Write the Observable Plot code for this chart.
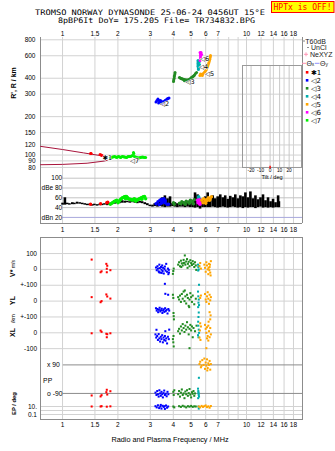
<!DOCTYPE html>
<html><head><meta charset="utf-8">
<script src="https://cdn.jsdelivr.net/npm/d3@7"></script>
<script src="https://cdn.jsdelivr.net/npm/@observablehq/plot@0.6"></script>
<style>
html,body{margin:0;padding:0;background:#fff;}
#wrap{position:relative;width:335px;height:451px;overflow:hidden;background:#fff;}
.pane{position:absolute;left:0;}
</style></head><body>
<div id="wrap"></div>
<script>
// ---------------- DATA ----------------
const gridFreqs = [1, 1.5, 2, 3, 4, 5, 6, 7, 8, 9, 10, 12, 14, 16, 18];
const topFreqLabels = [1, 1.5, 2, 3, 4, 5, 6, 7, 8, 10, 12, 14, 16, 18];
const midFreqLabels = [1, 1.5, 2, 3, 4, 5, 6, 7, 8, 9, 10, 12, 14, 16, 18];
const botFreqLabels = [1, 1.5, 2, 3, 4, 5, 6, 7, 8, 10, 12, 14, 16, 18];
const heightTicks = [80, 90, 100, 120, 150, 200, 300, 400, 600, 800];
const dbTicks = [100, 80, 60, 40, 20];
const dbTickText = ["100", "dBe 80", "60", "40", "dBn 20"];
const tiltTicks = [-20, -10, 0, 10, 20];
const rowTicks = [100, 0, -100];
const epTicks = [10, 1, 0.1];

// model traces (maroon) in the height panel
const upperF = [0.76, 1.0, 1.3, 1.61, 1.75];
const upperH = [117, 110.5, 104, 99, 96];
const lowerF = [0.76, 1.0, 1.36, 1.68, 1.75];
const lowerH = [84, 84.5, 86.3, 89.7, 91];

// echo traces: [frequency MHz, virtual height km]
const topRed = [[1.42,103],[1.43,103],[1.60,101],[1.62,100],[1.64,99]];
const topLime = [[1.82,95.8],[1.85,96.2],[1.87,96.7],[1.90,97],[1.92,97.6],[1.95,96.5],[1.97,95.8],[2.0,96.8],[2.02,97.6],[2.05,96.5],[2.07,95.8],[2.10,96.8],[2.12,97.6],[2.15,97],[2.17,96.7],[2.20,96],[2.23,95.8],[2.26,96.8],[2.28,97.6],[2.31,97.6],[2.34,97.6],[2.37,98.5],[2.40,99.3],[2.43,104.9],[2.44,102.7],[2.46,97.6],[2.50,96.5],[2.53,95.8],[2.56,95.2],[2.59,94.9],[2.62,95.3],[2.65,95.8],[2.68,96.3],[2.72,96.7],[2.75,96.2],[2.79,95.8],[2.83,95.8]];
const topBlue = [[3.22,261],[3.26,268],[3.30,275],[3.35,268],[3.39,261],[3.43,256],[3.47,254],[3.52,258],[3.56,263],[3.61,268],[3.65,270],[3.70,275],[3.74,278],[3.79,280],[3.41,268],[3.33,256],[3.50,262]];
const topGreen = [[4.01,377],[4.02,388],[4.04,398],[4.05,410],[4.06,420],[4.08,432],[4.09,444],[4.32,406],[4.36,402],[4.41,398],[4.45,396],[4.49,395],[4.53,393],[4.57,391],[4.62,389],[4.66,388],[4.70,388],[4.75,388],[4.80,388],[4.84,388],[4.88,391],[4.93,395],[4.98,400],[5.02,406],[5.07,409],[5.12,413],[5.17,418],[5.22,424],[5.28,436],[5.35,444],[4.60,382],[4.80,380]];
const topCyan = [[5.45,551],[5.45,536],[5.45,522],[5.45,508],[5.45,494],[5.47,481],[5.48,468],[5.55,541],[5.55,513],[5.55,486]];
const topMagenta = [[5.59,636],[5.66,636],[5.62,620],[5.62,603],[5.62,587],[5.62,571],[5.59,551],[5.70,614]];
const topOrange = [[5.58,420],[5.69,428],[5.76,432],[5.84,436],[5.90,444],[5.95,452],[6.01,462],[6.06,472],[6.10,483],[6.14,494],[6.18,508],[6.22,522],[6.26,536],[6.29,551],[6.31,563],[6.33,576],[6.35,590],[6.37,603],[5.62,432],[5.75,420]];
const echoLabels = [[1.75,95,"✱1"],[2.46,90.5,"◁7"],[3.58,252,"◁2"],[4.93,374,"◁3"],[5.84,487,"◁4"],[6.30,436,"◁5"],[5.91,571,"◁6"]];
const tiltMarks = [[0, 78, 82]];

// amplitude panel: noise (black) and echo amplitudes [f, dB]
const noiseF = [1.00,1.03,1.06,1.09,1.13,1.16,1.20,1.24,1.28,1.32,1.36,1.40,1.45,1.49,1.54,1.59,1.64,1.69,1.75,1.80,1.86,1.92,1.98,2.04,2.11,2.18,2.25,2.32,2.39,2.47,2.55,2.63,2.71,2.80,2.89,2.98,3.08,3.17,3.28,3.38,3.49,3.60,3.72,3.84,3.96,4.08,4.21,4.35,4.49,4.63,4.78,4.93,5.09,5.25,5.42,5.59,5.77,5.96,6.15,6.34,6.55,6.76,6.97,7.20,7.43,7.66,7.91,8.16,8.42,8.69,8.97,9.26,9.55,9.86,10.17,10.50,10.83,11.18,11.54,11.91,12.29,12.68,13.09,13.51,13.94,14.38,14.85,15.0];
const noiseTop = [49,60,49,48,50,49,51,50,49,48,47,47,46,47,46,47,47,48,47,49,50,51,52,52,54,53,53,52,54,53,52,53,52,50,48,45,45,48,50,52,60,64,58,62,48,50,48,50,52,50,53,51,55,70,66,58,56,62,70,60,64,58,62,66,60,64,57,63,60,66,58,64,62,70,60,72,58,64,56,60,66,54,60,52,57,50,64,52];
const noiseBot = [45,45,46,45,46,46,47,47,46,45,44,44,43,44,43,44,44,45,44,46,47,47,48,48,49,49,50,49,50,49,48,49,48,46,44,42,41,42,41,42,41,40,41,41,42,41,40,41,41,40,41,40,40,39,40,37,40,40,40,40,41,40,39,40,41,40,39,40,41,40,39,40,38,40,39,40,40,38,40,41,39,40,39,40,39,40,40,40];
const dbRed = [[1.42,47],[1.61,48],[1.74,50],[1.76,51]];
const dbLime = [[1.82,47],[1.85,49],[1.87,50],[1.90,52],[1.92,53],[1.95,54],[1.97,55],[2.0,53],[2.02,52],[2.05,55],[2.07,57],[2.10,59],[2.12,60],[2.15,61],[2.17,62],[2.20,63],[2.23,63],[2.26,60],[2.28,58],[2.31,57],[2.34,57],[2.37,56],[2.40,55],[2.43,57],[2.46,58],[2.50,56],[2.53,55],[2.56,56],[2.59,57],[2.62,58],[2.65,59],[2.68,60],[2.72,61],[2.75,62],[2.79,63],[2.83,58],[2.0,50],[2.2,58],[2.5,53],[2.7,57]];
const dbBlue = [[3.22,48],[3.30,52],[3.38,55],[3.45,57],[3.52,53],[3.60,50],[3.70,47],[3.45,49],[3.35,46],[3.56,58],[3.77,47],[3.48,53],[3.62,54]];
const dbGreen = [[4.01,50],[4.05,47],[4.32,49],[4.45,52],[4.57,50],[4.70,53],[4.84,51],[4.95,55],[5.08,52],[5.20,56],[5.15,48],[4.65,47],[4.40,48],[4.90,49],[5.0,53]];
const dbCyan = [[5.49,62],[5.52,58],[5.50,60]];
const dbMagenta = [[5.42,55],[5.50,52],[5.60,50],[5.55,56],[5.45,50],[5.58,47]];
const dbOrange = [[5.72,55],[5.85,58],[5.95,53],[6.05,56],[6.20,60],[6.35,58],[6.45,62],[5.80,50],[6.0,49],[6.1,54],[6.3,55]];

// kinematics panel: V* (m/s), YL (km), XL (km), PP (deg), EP (deg)
const vRed = [[1.44,62],[1.61,-18],[1.63,-12],[1.73,35],[1.75,23],[1.74,4],[1.74,-18],[1.82,-5]];
const ylRed = [[1.44,25],[1.61,-7],[1.63,0],[1.73,42],[1.75,29],[1.82,16]];
const xlRed = [[1.44,-3],[1.61,14],[1.63,6],[1.73,-6],[1.75,-9],[1.74,-28],[1.82,-3]];
const ppRed = [[1.44,-103],[1.61,-109],[1.63,-101],[1.73,-82],[1.74,-67],[1.75,-97],[1.82,-76]];
const epRed = [[1.44,10],[1.61,10],[1.63,12],[1.74,9],[1.82,11]];

const vBlue = [[3.22,12],[3.25,-5],[3.28,20],[3.30,5],[3.33,-12],[3.36,30],[3.38,8],[3.40,-20],[3.43,15],[3.45,-2],[3.48,25],[3.50,-10],[3.52,10],[3.55,-26],[3.58,3],[3.60,18],[3.63,-8],[3.66,35],[3.70,-15],[3.74,5],[3.78,-3],[3.60,-91],[3.35,-18],[3.46,-22],[3.76,-30],[3.79,-20]];
const ylBlue = [[3.62,46],[3.75,40],[3.22,-45],[3.25,-60],[3.28,-50],[3.31,-70],[3.34,-55],[3.37,-42],[3.40,-65],[3.43,-58],[3.46,-48],[3.49,-75],[3.52,-60],[3.55,-52],[3.58,-68],[3.61,-45],[3.64,-62],[3.68,-55],[3.72,-78],[3.76,-50],[3.80,-60]];
const xlBlue = [[3.24,19],[3.20,-10],[3.23,-30],[3.27,-20],[3.30,-45],[3.33,-8],[3.36,-35],[3.39,-55],[3.42,-25],[3.45,-40],[3.48,-15],[3.51,-60],[3.54,-30],[3.57,-45],[3.60,-20],[3.63,-50],[3.66,-35],[3.70,-67],[3.74,-25],[3.78,-40],[3.62,10],[3.80,20]];
const ppBlue = [[3.20,-85],[3.24,-100],[3.27,-75],[3.30,-95],[3.33,-110],[3.36,-70],[3.39,-90],[3.42,-105],[3.45,-80],[3.48,-95],[3.51,-115],[3.54,-88],[3.57,-72],[3.60,-100],[3.64,-92],[3.68,-108],[3.72,-80],[3.76,-95]];
const epBlue = [[3.20,12],[3.25,6],[3.30,20],[3.35,4],[3.40,10],[3.45,3],[3.50,15],[3.55,8],[3.60,2.5],[3.65,18],[3.70,5],[3.75,10],[3.42,25],[3.58,12]];

const vGreen = [[3.98,-28],[4.00,-10],[4.02,5],[4.25,30],[4.30,45],[4.35,20],[4.40,55],[4.45,38],[4.50,25],[4.55,60],[4.60,42],[4.62,88],[4.65,30],[4.70,50],[4.75,65],[4.80,35],[4.85,48],[4.90,20],[4.95,58],[5.00,40],[5.05,28],[5.10,52],[5.15,35],[5.20,15],[5.25,45],[5.30,25],[4.42,15],[4.78,10],[4.55,40],[5.33,-3]];
const ylGreen = [[3.98,40],[4.00,20],[4.01,-75],[4.02,-95],[4.03,-115],[4.25,25],[4.30,10],[4.35,35],[4.40,-5],[4.45,45],[4.50,15],[4.55,60],[4.60,0],[4.65,30],[4.70,-15],[4.75,40],[4.80,20],[4.85,-30],[4.90,10],[4.95,50],[5.00,25],[5.05,-5],[5.10,35],[5.20,-20],[5.30,15],[4.62,67],[4.88,-38]];
const xlGreen = [[3.98,-40],[4.00,-60],[4.02,-86],[4.01,-20],[4.25,10],[4.30,25],[4.35,-5],[4.40,40],[4.45,15],[4.50,55],[4.55,30],[4.60,5],[4.65,45],[4.70,20],[4.75,67],[4.80,35],[4.85,-10],[4.90,25],[4.95,50],[5.00,15],[5.05,40],[5.10,-28],[5.15,30],[5.25,10],[5.35,45],[4.90,-97]];
const ppGreen = [[4.00,-80],[4.02,-100],[4.05,-70],[4.25,-95],[4.30,-75],[4.35,-110],[4.40,-85],[4.45,-65],[4.50,-100],[4.55,-90],[4.60,-120],[4.65,-78],[4.70,-95],[4.75,-70],[4.80,-105],[4.85,-88],[4.90,-62],[4.95,-98],[5.00,-115],[5.05,-82],[5.10,-92],[5.15,-75],[5.20,-105],[5.25,-90]];
const epGreen = [[4.0,10],[4.05,6],[4.3,12],[4.4,8],[4.5,15],[4.6,10],[4.7,6],[4.8,12],[4.9,9],[5.0,14],[5.1,8],[5.2,11],[5.3,10]];

const vCyan = [[5.45,30],[5.47,15],[5.50,0],[5.46,-7],[5.52,22],[5.52,-97]];
const ylCyan = [[5.45,60],[5.47,30],[5.50,10],[5.48,-10],[5.52,-25],[5.46,-38]];
const xlCyan = [[5.50,128],[5.48,100],[5.46,70],[5.47,45],[5.50,20],[5.52,0],[5.45,-15],[5.48,-28]];
const ppCyan = [[5.51,8.6],[5.45,-60],[5.47,-75],[5.49,-90],[5.50,-100],[5.52,-110],[5.46,-120],[5.48,-85]];
const epCyan = [[5.48,10],[5.50,3]];

const vOrange = [[5.55,20],[5.60,40],[5.65,5],[5.90,30],[5.95,10],[6.00,-15],[6.05,45],[6.10,25],[6.15,0],[6.20,-30],[6.25,35],[6.30,15],[6.35,-20],[6.40,52],[6.38,-38],[6.22,10],[6.28,-5],[6.33,30]];
const ylOrange = [[5.60,20],[5.65,35],[5.95,45],[6.00,10],[6.05,-5],[6.10,30],[6.15,56],[6.20,15],[6.25,-17],[6.30,40],[6.35,5],[6.40,25]];
const xlOrange = [[6.30,130],[6.38,110],[5.60,60],[5.65,40],[5.58,15],[5.95,50],[6.00,25],[6.05,0],[6.10,35],[6.15,-20],[6.20,45],[6.25,10],[6.30,-28],[6.35,30],[6.40,-10],[6.20,-49],[6.10,-35],[6.05,-97],[6.22,70],[6.35,85],[5.55,-30],[5.62,-45]];
const ppOrange = [[5.55,95],[5.60,110],[5.65,75],[5.75,120],[5.85,90],[5.95,65],[6.00,105],[6.05,85],[6.10,125],[6.15,70],[6.20,100],[6.25,90],[6.30,115],[6.35,60],[6.40,95],[5.70,85],[6.12,55],[5.90,130]];
const epOrange = [[5.50,10],[5.60,6],[5.70,14],[5.80,8],[5.90,12],[6.00,18],[6.10,7],[6.20,11],[6.30,5],[6.40,13]];

const echoNames = ["✱1", "◁2", "◁3", "◁4", "◁5", "◁6", "◁7"];

// ---------------- STYLE / LAYOUT ----------------
const FONT = "'Liberation Sans', Arial, sans-serif";
const X_DOMAIN = [0.759, 20.15];
const GRID = "#d2d2d2";
const EDGE = "#8c8c8c";
const MAROON = "#a8143c";
const COL = {red:"#ff0000", blue:"#0000ff", green:"#228b22", cyan:"#00acac", orange:"#ffa500", magenta:"#ff00ff", lime:"#00f000"};
const echoColors = [COL.red, COL.blue, COL.green, COL.cyan, COL.orange, COL.magenta, COL.lime];
const baseStyle = {fontFamily: FONT, fontSize: "6.5px", background: "transparent", color: "#000", overflow: "visible"};
const fx = d => d[0], fy = d => d[1];
const fmt = d => String(d);

const wrap = document.getElementById("wrap");
function place(node, top, left = 0) {
  const div = document.createElement("div");
  div.className = "pane";
  div.style.top = top + "px";
  div.style.left = left + "px";
  div.appendChild(node);
  wrap.appendChild(div);
}

// ---- top panel: virtual height ----
const topDots = [[topRed, COL.red], [topLime, COL.lime], [topBlue, COL.blue], [topGreen, COL.green], [topOrange, COL.orange], [topCyan, COL.cyan], [topMagenta, COL.magenta]];
const topPlot = Plot.plot({
  width: 335, height: 146, marginLeft: 40, marginRight: 33, marginTop: 11, marginBottom: 0,
  x: {type: "log", domain: X_DOMAIN},
  y: {type: "log", domain: [73, 834]},
  style: baseStyle,
  marks: [
    Plot.ruleY(heightTicks, {stroke: GRID}),
    Plot.ruleX(gridFreqs, {stroke: GRID}),
    Plot.ruleX(X_DOMAIN, {stroke: EDGE}),
    Plot.axisX({anchor: "top", ticks: topFreqLabels, tickSize: 0, tickPadding: 1.5, tickFormat: fmt, label: null}),
    Plot.axisY({anchor: "left", ticks: heightTicks, tickSize: 0, tickPadding: 5, tickFormat: fmt, label: null}),
    Plot.line(upperF.map((f, i) => [f, upperH[i]]), {x: fx, y: fy, stroke: MAROON, strokeWidth: 1}),
    Plot.line(lowerF.map((f, i) => [f, lowerH[i]]), {x: fx, y: fy, stroke: MAROON, strokeWidth: 1}),
    ...topDots.map(([data, c]) => Plot.dot(data, {x: fx, y: fy, r: 1.5, fill: c, stroke: "none"})),
    Plot.text(echoLabels, {x: fx, y: fy, text: d => d[2], fontFamily: "'DejaVu Sans'", fontSize: 6.5, fill: "#000", stroke: "#fff", strokeWidth: 1})
  ]
});
place(topPlot, 26);

// ---- middle panel: amplitude ----
const dbDots = [[dbRed, COL.red], [dbLime, COL.lime], [dbBlue, COL.blue], [dbGreen, COL.green], [dbCyan, COL.cyan], [dbMagenta, COL.magenta], [dbOrange, COL.orange]];
const midPlot = Plot.plot({
  width: 335, height: 62, marginLeft: 40, marginRight: 33, marginTop: 0, marginBottom: 11,
  x: {type: "log", domain: X_DOMAIN},
  y: {domain: [7.6, 111.6], axis: null},
  style: baseStyle,
  marks: [
    Plot.ruleX(gridFreqs, {stroke: GRID}),
    Plot.ruleY(dbTicks.slice(0, 4), {x1: 1, x2: X_DOMAIN[1], stroke: "#c4c4c4"}),
    Plot.ruleY(dbTicks.slice(4), {x1: 1, x2: X_DOMAIN[1], stroke: "#a9a9dc"}),
    Plot.ruleX(X_DOMAIN, {stroke: EDGE}),
    Plot.ruleY([7.6], {stroke: EDGE}),
    Plot.text(dbTicks, {y: d => d, text: (d, i) => dbTickText[i], frameAnchor: "left", dx: 21.7, textAnchor: "end", fontSize: 6.5}),
    Plot.ruleX(noiseF.map((f, i) => [f, noiseBot[i], noiseTop[i]]), {x: fx, y1: d => d[1], y2: d => d[2], stroke: "#000", strokeWidth: 2.6}),
    ...dbDots.map(([data, c]) => Plot.dot(data, {x: fx, y: fy, r: 1.7, fill: c, stroke: "none"})),
    Plot.axisX({anchor: "bottom", ticks: midFreqLabels, tickSize: 0, tickPadding: 3.5, tickFormat: fmt, label: null})
  ]
});
place(midPlot, 172);

// ---- bottom panel: V*, YL, XL, PP, EP rows (composite row offsets) ----
const uV = v => v + 400, uYL = v => v + 200, uXL = v => v, uPP = v => v - 292.5, uEP = v => -490.2 + 25.24 * Math.log10(v);
const rowGrid = [...rowTicks.map(uV), ...rowTicks.slice(1).map(uYL), ...rowTicks.slice(1).map(uXL)];
const rowAxis = [
  ...rowTicks.map((t, i) => [uV(t), i === 2 ? "+-100" : String(t)]),
  ...rowTicks.slice(1).map((t, i) => [uYL(t), i === 1 ? "+-100" : String(t)]),
  ...rowTicks.slice(1).map(t => [uXL(t), String(t)]),
  [uEP(10), "10."], [uEP(0.1), "0.1"]
];
const ppModeAxis = [[uPP(90), "x 90"], [uPP(-90), "o -90"]];
const ppTitle = [[uPP(-8.5), "PP"]];
const series = [
  [vRed, ylRed, xlRed, ppRed, epRed, COL.red],
  [vBlue, ylBlue, xlBlue, ppBlue, epBlue, COL.blue],
  [vGreen, ylGreen, xlGreen, ppGreen, epGreen, COL.green],
  [vCyan, ylCyan, xlCyan, ppCyan, epCyan, COL.cyan],
  [vOrange, ylOrange, xlOrange, ppOrange, epOrange, COL.orange]
];
const sq = (data, fn, c) => Plot.dot(data, {x: fx, y: d => fn(d[1]), symbol: "square", r: 1.15, fill: c, stroke: "none"});
const botPlot = Plot.plot({
  width: 335, height: 215, marginLeft: 40, marginRight: 33, marginTop: 1, marginBottom: 32,
  x: {type: "log", domain: X_DOMAIN},
  y: {domain: [-547, 601.3]},
  style: baseStyle,
  marks: [
    Plot.ruleX(gridFreqs, {stroke: GRID}),
    Plot.ruleY(rowGrid, {stroke: GRID}),
    Plot.ruleY(epTicks.map(uEP), {stroke: GRID}),
    Plot.ruleY([uPP(90), uPP(-90)], {x1: 1.01, x2: X_DOMAIN[1], stroke: EDGE}),
    Plot.frame({stroke: EDGE}),
    Plot.axisY({anchor: "left", ticks: rowAxis.map(d => d[0]), tickSize: 0, tickPadding: 3.5, tickFormat: d => (rowAxis.find(r => r[0] === d) || [0, ""])[1], label: null}),
    Plot.text(ppModeAxis, {y: d => d[0], text: d => d[1], dx: 6.5, frameAnchor: "left", textAnchor: "start", fontSize: 6.8}),
    Plot.text(ppTitle, {y: d => d[0], text: d => d[1], dx: 2.6, frameAnchor: "left", textAnchor: "start", fontSize: 6.8}),
    ...series.flatMap(([v, yl, xl, pp, ep, c]) => [sq(v, uV, c), sq(yl, uYL, c), sq(xl, uXL, c), sq(pp, uPP, c), sq(ep, uEP, c)]),
    Plot.axisX({anchor: "bottom", ticks: botFreqLabels, tickSize: 0, tickPadding: 3.3, tickFormat: fmt, label: null})
  ]
});
place(botPlot, 236);

// ---- tilt inset ----
const tiltPlot = Plot.plot({
  width: 80, height: 117, marginLeft: 10, marginRight: 11, marginTop: 1, marginBottom: 14,
  x: {domain: [-29, 33]},
  y: {type: "log", domain: [80, 503], axis: null},
  style: {...baseStyle, fontSize: "4.8px"},
  marks: [
    Plot.ruleX(tiltTicks, {stroke: "#c8c8c8"}),
    Plot.frame({stroke: "#9a9a9a"}),
    Plot.ruleX(tiltMarks, {x: d => d[0], y1: d => d[1], y2: d => d[2], stroke: "#ff0000", strokeWidth: 1.4}),
    Plot.axisX({anchor: "bottom", ticks: tiltTicks, tickSize: 0, tickPadding: 1.2, tickFormat: fmt, label: null})
  ]
});
place(tiltPlot, 64, 232);

// ---- text overlay: titles, legend, row labels ----
const legendRows = echoNames.map((n, i) => `<rect x="305.8" y="${71 + i * 8}" width="2.6" height="2.6" fill="${echoColors[i]}"/><text x="311" y="${74.6 + i * 8}" font-family="'DejaVu Sans'" font-size="7">${n}</text>`).join("");
const overlay = `<svg xmlns="http://www.w3.org/2000/svg" width="335" height="451" style="position:absolute;left:0;top:0;pointer-events:none">
<g font-family="'DejaVu Sans Mono', monospace" font-size="7.6" fill="#000" style="white-space:pre">
<text x="35" y="15" textLength="230" lengthAdjust="spacingAndGlyphs">TROMSO NORWAY   DYNASONDE 25-06-24 0456UT 15°E</text>
<text x="58" y="22.8" textLength="197" lengthAdjust="spacingAndGlyphs">8pBP6It DoY= 175.205 File= TR734832.BPG</text>
</g>
<rect x="271.5" y="1.5" width="62.5" height="11" fill="#ffff00" stroke="#ff0000" stroke-width="1"/>
<text x="273.5" y="10.2" font-family="'DejaVu Sans Mono', monospace" font-size="8" fill="#ff0000" textLength="58" lengthAdjust="spacingAndGlyphs" style="white-space:pre">HPTx is OFF!</text>
<g font-family="${FONT}" fill="#000">
<text transform="translate(15.5,83) rotate(-90)" text-anchor="middle" font-weight="bold" font-size="7">R', R / km</text>
<text transform="translate(14.5,268.5) rotate(-90)" text-anchor="middle"><tspan font-weight="bold" font-size="7">V*</tspan><tspan font-size="5" dx="1.5">m/s</tspan></text>
<text transform="translate(14.5,300.5) rotate(-90)" text-anchor="middle" font-weight="bold" font-size="7">YL</text>
<text transform="translate(14.5,318.5) rotate(-90)" text-anchor="middle" font-size="5.5">/km</text>
<text transform="translate(14.5,332.5) rotate(-90)" text-anchor="middle" font-weight="bold" font-size="7">XL</text>
<text transform="translate(15.5,403.5) rotate(-90)" text-anchor="middle" font-weight="bold" font-size="5.8">EP / deg</text>
<text x="170" y="441.6" text-anchor="middle" font-size="7.3">Radio and Plasma Frequency / MHz</text>
<text x="272" y="178.6" text-anchor="middle" font-size="5.6">Tilt / deg</text>
</g>
<g font-family="${FONT}" font-size="7" fill="#222">
<line x1="302" y1="41" x2="305" y2="41" stroke="#999" stroke-width="1.2"/>
<text x="305.3" y="43.5">T60dB</text>
<circle cx="308" cy="47.5" r="0.6" fill="#000"/>
<text x="311" y="50">UnCl</text>
<path d="M304,54.3h4M306,52.3v4" stroke="#ff8fb0" stroke-width="0.9"/>
<text x="310" y="56.6">NeXYZ</text>
<line x1="302" y1="63.3" x2="306" y2="63.3" stroke="#ff8fb0" stroke-width="1"/>
<text x="306.4" y="65.8">Θ<tspan font-size="5">x</tspan></text>
<line x1="315" y1="63.3" x2="319.5" y2="63.3" stroke="#8f8fff" stroke-width="1"/>
<text x="320" y="65.8">Θ<tspan font-size="5">y</tspan></text>
</g>
${legendRows}
</svg>`;
wrap.insertAdjacentHTML("beforeend", overlay);
</script></body></html>
